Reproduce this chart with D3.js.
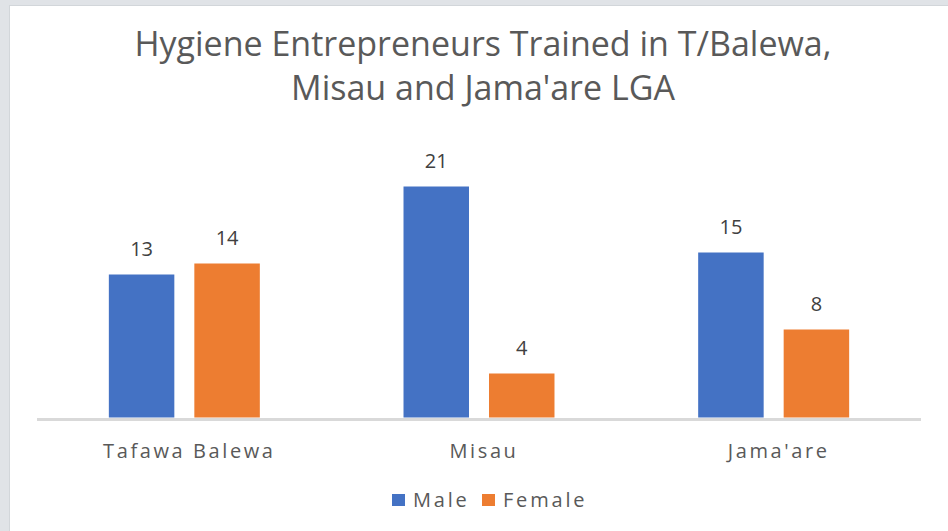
<!DOCTYPE html>
<html>
<head>
<meta charset="utf-8">
<script src="https://cdn.jsdelivr.net/npm/d3@7"></script>
<style>
  body { margin: 0; background: #ffffff; }
  svg { display: block; }
</style>
</head>
<body>
<script>
//Width and height
var w = 948;
var h = 531;

//Data
var categories = ["Tafawa Balewa", "Misau", "Jama'are"];
var series = ["Male", "Female"];
var male = [13, 21, 15];
var female = [14, 4, 8];
var colors = ["#4472c4", "#ed7d31"];
var titleLines = ["Hygiene Entrepreneurs Trained in T/Balewa,", "Misau and Jama'are LGA"];

var dataset = categories.map(function(c, i) {
  return { cat: c, values: [male[i], female[i]] };
});

//Plot area
var plotLeft = 37, plotRight = 921, plotBottom = 417.5;

//Scales
var x0 = d3.scaleBand()
  .domain(categories)
  .range([plotLeft, plotRight])
  .paddingInner(0.4876)
  .paddingOuter(0.2438);

var x1 = d3.scaleBand()
  .domain(series)
  .range([0, x0.bandwidth()])
  .paddingInner(0.234);

var yScale = d3.scaleLinear()
  .domain([0, 25])
  .range([plotBottom, plotBottom - 275]);

//Create SVG element
var svg = d3.select("body")
  .append("svg")
  .attr("width", w)
  .attr("height", h);

//Frame
svg.append("rect")
  .attr("width", w).attr("height", h)
  .attr("fill", "#e0e3e7");
svg.append("rect")
  .attr("x", 9.5).attr("y", 5.5)
  .attr("width", w).attr("height", h)
  .attr("fill", "#ffffff")
  .attr("stroke", "#d2d6da");

//Title
svg.append("g")
  .selectAll("text")
  .data(titleLines)
  .enter()
  .append("text")
  .attr("x", 483)
  .attr("y", function(d, i) { return 56 + i * 44; })
  .attr("text-anchor", "middle")
  .attr("font-family", "'Open Sans', sans-serif")
  .attr("font-size", 34)
  .attr("fill", "#595959")
  .text(function(d) { return d; });

//Bars
var groups = svg.append("g")
  .selectAll("g")
  .data(dataset)
  .enter()
  .append("g")
  .attr("transform", function(d) { return "translate(" + x0(d.cat) + ",0)"; });

groups.selectAll("rect")
  .data(function(d) { return d.values.map(function(v, j) { return { s: series[j], v: v, j: j }; }); })
  .enter()
  .append("rect")
  .attr("x", function(d) { return x1(d.s); })
  .attr("y", function(d) { return yScale(d.v); })
  .attr("width", x1.bandwidth())
  .attr("height", function(d) { return yScale(0) - yScale(d.v); })
  .attr("fill", function(d) { return colors[d.j]; });

//Value labels
groups.selectAll("text")
  .data(function(d) { return d.values.map(function(v, j) { return { s: series[j], v: v }; }); })
  .enter()
  .append("text")
  .attr("x", function(d) { return x1(d.s) + x1.bandwidth() / 2; })
  .attr("y", function(d) { return yScale(d.v) - 19; })
  .attr("text-anchor", "middle")
  .attr("font-family", "'Open Sans', sans-serif")
  .attr("font-size", 20)
  .attr("fill", "#404040")
  .text(function(d) { return d.v; });

//Baseline
svg.append("line")
  .attr("x1", plotLeft).attr("x2", plotRight)
  .attr("y1", 419.5).attr("y2", 419.5)
  .attr("stroke", "#d9d9d9")
  .attr("stroke-width", 3);

//Category labels
svg.append("g")
  .selectAll("text")
  .data(categories)
  .enter()
  .append("text")
  .attr("x", function(d) { return x0(d) + x0.bandwidth() / 2 + 5; })
  .attr("y", 458)
  .attr("text-anchor", "middle")
  .attr("font-family", "'Open Sans', sans-serif")
  .attr("font-size", 20)
  .attr("letter-spacing", 2.6)
  .attr("fill", "#595959")
  .text(function(d) { return d; });

//Legend
var legendX = [392, 482];
var legend = svg.append("g")
  .selectAll("g")
  .data(series)
  .enter()
  .append("g")
  .attr("transform", function(d, i) { return "translate(" + legendX[i] + ",494)"; });

legend.append("rect")
  .attr("width", 13).attr("height", 12)
  .attr("fill", function(d, i) { return colors[i]; });

legend.append("text")
  .attr("x", 21)
  .attr("y", 13)
  .attr("font-family", "'Open Sans', sans-serif")
  .attr("font-size", 20)
  .attr("letter-spacing", 2.8)
  .attr("fill", "#595959")
  .text(function(d) { return d; });
</script>
</body>
</html>
